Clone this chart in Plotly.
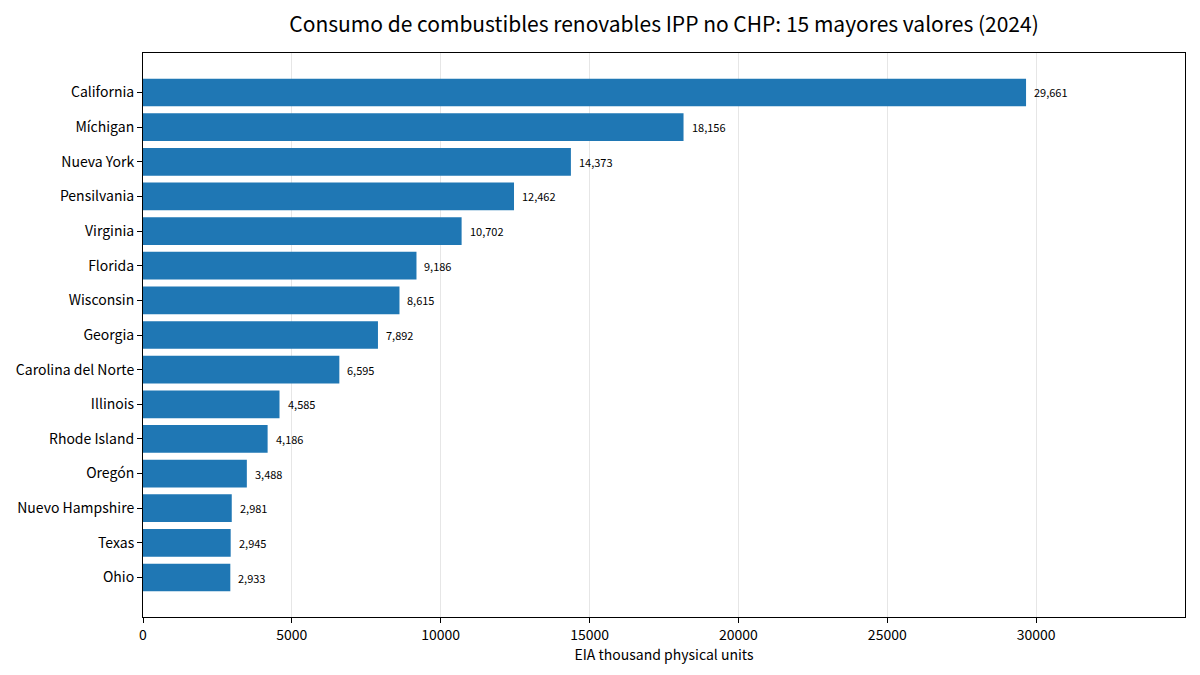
import plotly.graph_objects as go

# ===============================
# Datos
# ===============================
estados = [
    "California", "Míchigan", "Nueva York", "Pensilvania", "Virginia",
    "Florida", "Wisconsin", "Georgia", "Carolina del Norte", "Illinois",
    "Rhode Island", "Oregón", "Nuevo Hampshire", "Texas", "Ohio",
]
consumo = [
    29661, 18156, 14373, 12462, 10702,
    9186, 8615, 7892, 6595, 4585,
    4186, 3488, 2981, 2945, 2933,
]
ticks_x = [0, 5000, 10000, 15000, 20000, 25000, 30000]

FUENTE = "Noto Sans CJK JP"
AZUL = "#1f77b4"

fig = go.Figure()
fig.add_trace(go.Bar(
    x=consumo,
    y=list(range(len(estados))),
    orientation="h",
    width=0.8,
    marker=dict(color=AZUL, line=dict(width=0)),
    hoverinfo="x",
))

# Etiquetas de valor al final de cada barra
for i, v in enumerate(consumo):
    fig.add_annotation(
        x=v, y=i, text=f"{v:,}", showarrow=False,
        xanchor="left", yanchor="middle", xshift=6,
        font=dict(family=FUENTE, size=11, color="black"),
    )

# la página añade 8px de margen al cuerpo: se compensa aquí
fig.update_layout(
    width=1200, height=675,
    margin=dict(l=135, r=23, t=45, b=66),
    paper_bgcolor="white", plot_bgcolor="white",
    showlegend=False,
    font=dict(family=FUENTE, size=14, color="black"),
    title=dict(
        text="Consumo de combustibles renovables IPP no CHP: 15 mayores valores (2024)",
        x=(664 - 8) / 1200, xanchor="center", xref="container",
        y=1 - 17 / 675, yanchor="middle", yref="container",
        font=dict(family=FUENTE, size=21, color="black"),
    ),
)

fig.update_xaxes(
    range=[0, max(consumo) * 1.18],
    tickmode="array", tickvals=ticks_x, ticktext=[str(t) for t in ticks_x],
    showgrid=True, gridcolor="#e6e6e6", gridwidth=1,
    showline=True, linecolor="black", linewidth=1, mirror=True,
    ticks="outside", ticklen=5, tickcolor="black",
    zeroline=False, automargin=False,
    title=dict(text="EIA thousand physical units", font=dict(size=14), standoff=5),
    tickfont=dict(size=14),
)
fig.update_yaxes(
    range=[len(estados) - 1 + 1.14, -1.14],
    tickmode="array",
    tickvals=list(range(len(estados))),
    ticktext=estados,
    showgrid=False,
    showline=True, linecolor="black", linewidth=1, mirror=True,
    ticks="outside", ticklen=5, tickcolor="black",
    zeroline=False, automargin=False,
    tickfont=dict(size=14),
)

fig.write_html("out.html")
